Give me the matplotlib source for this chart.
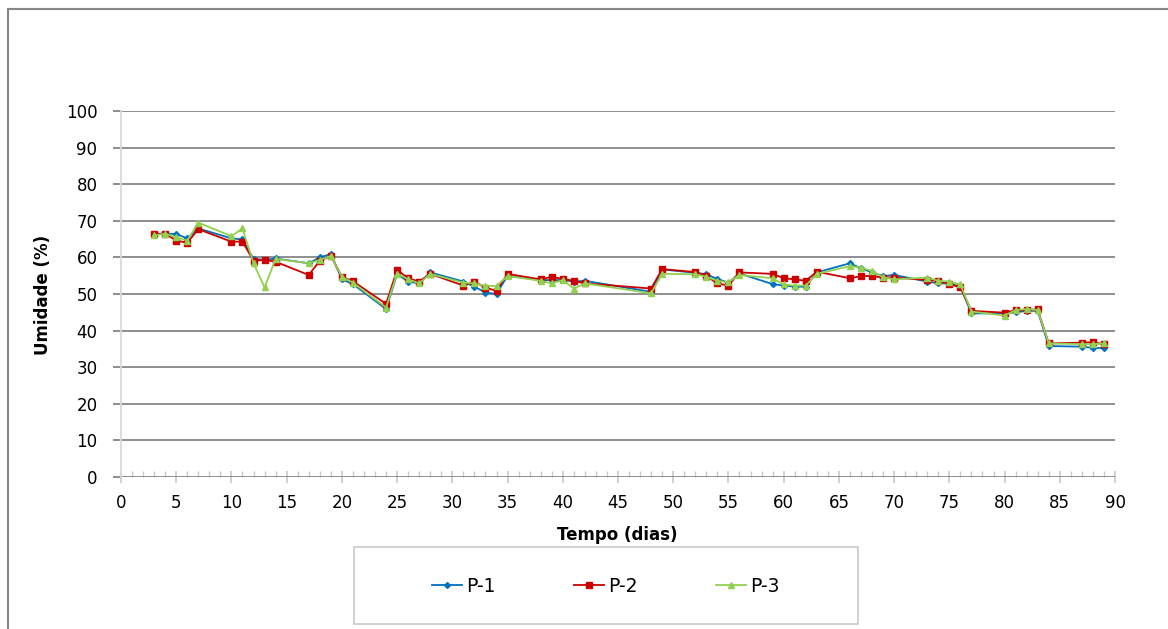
import matplotlib
matplotlib.use("Agg")
from matplotlib import pyplot as plt
from matplotlib.pyplot import MultipleLocator
from matplotlib.lines import Line2D
from matplotlib.patches import Rectangle

# dias de medição
dias = [3, 4, 5, 6, 7, 10, 11, 12, 13, 14, 17, 18, 19, 20, 21,
        24, 25, 26, 27, 28, 31, 32, 33, 34, 35, 38, 39, 40, 41, 42,
        48, 49, 52, 53, 54, 55, 56, 59, 60, 61, 62, 63,
        66, 67, 68, 69, 70, 73, 74, 75, 76, 77,
        80, 81, 82, 83, 84, 87, 88, 89]

p1 = [66.5, 66.5, 66.4, 65.2, 67.9, 65.2, 64.9, 59.6, 59.3, 59.7, 58.4, 60.0, 60.9, 54.0, 52.7,
      45.9, 55.4, 53.4, 52.9, 55.9, 53.4, 52.0, 50.4, 50.0, 55.0, 53.8, 53.8, 53.8, 53.4, 53.6,
      50.6, 56.7, 55.8, 55.4, 54.1, 53.1, 55.6, 52.7, 52.3, 52.0, 52.0, 55.9,
      58.4, 57.0, 55.9, 54.9, 55.2, 53.4, 52.9, 52.9, 52.0, 44.7,
      44.7, 45.0, 45.4, 45.4, 35.8, 35.6, 35.3, 35.2]

p2 = [66.3, 66.5, 64.6, 64.0, 67.7, 64.3, 64.3, 59.1, 59.3, 58.8, 55.2, 59.1, 60.4, 54.7, 53.5,
      47.3, 56.6, 54.3, 53.4, 55.5, 52.3, 53.4, 51.7, 50.9, 55.5, 54.0, 54.7, 54.1, 53.6, 52.9,
      51.5, 56.8, 56.0, 54.9, 52.9, 52.3, 55.9, 55.5, 54.3, 54.0, 53.6, 56.1,
      54.3, 54.9, 54.9, 54.5, 54.5, 53.8, 53.6, 52.7, 51.8, 45.4,
      44.9, 45.6, 45.6, 45.8, 36.5, 36.7, 36.8, 36.3]

p3 = [66.0, 66.5, 65.5, 64.6, 69.5, 65.8, 67.9, 58.4, 51.8, 59.6, 58.4, 59.3, 60.4, 54.7, 53.1,
      46.3, 55.6, 54.0, 52.9, 55.5, 53.1, 52.9, 52.2, 52.2, 54.9, 53.6, 52.9, 53.8, 51.5, 52.9,
      50.2, 55.5, 55.4, 54.7, 53.6, 53.2, 55.2, 54.3, 52.6, 52.3, 52.3, 55.5,
      57.6, 57.2, 56.3, 54.6, 54.0, 54.5, 53.6, 53.4, 52.6, 45.2,
      44.1, 45.6, 45.9, 45.6, 36.5, 36.3, 36.3, 36.5]

series = ['P-1', 'P-2', 'P-3']

W, H = 1168, 629
fig = plt.figure(figsize=(W / 100, H / 100), dpi=100)
ax = fig.add_axes([121 / W, 1 - 477 / H, (1115 - 121) / W, (477 - 111) / H])

ax.plot(dias, p1, color='#0070C0', lw=1.3, marker='D', ms=3, label=series[0])
ax.plot(dias, p2, color='#CC0000', lw=1.3, marker='s', ms=5, label=series[1])
ax.plot(dias, p3, color='#92D050', lw=1.3, marker='^', ms=4.5, label=series[2])

ax.set_xlim(0, 90)
ax.set_ylim(0, 100)
ax.xaxis.set_major_locator(MultipleLocator(5))
ax.xaxis.set_minor_locator(MultipleLocator(1))
ax.yaxis.set_major_locator(MultipleLocator(10))

ax.grid(axis='y', color='#868686', lw=1.3)
ax.set_axisbelow(True)
for s in ['top', 'right', 'bottom']:
    ax.spines[s].set_visible(False)
ax.spines['left'].set_color('#d9d9d9')
ax.spines['left'].set_linewidth(1.3)

ax.tick_params(axis='x', which='major', direction='inout', length=9, width=1.2,
               color='#c8c8c8', labelsize=12, pad=8)
ax.tick_params(axis='x', which='minor', direction='in', length=4, width=1.0,
               color='#c8c8c8')
ax.tick_params(axis='y', which='major', direction='out', length=6, width=1.3,
               color='#868686', labelsize=12, pad=11)

ax.set_xlabel('Tempo (dias)', fontsize=12, fontweight='bold')
ax.set_ylabel('Umidade (%)', fontsize=12, fontweight='bold')
ax.xaxis.set_label_coords((617 - 121) / 994, (477 - 535) / 366)
ax.xaxis.label.set_va('center')
ax.yaxis.set_label_coords((43 - 121) / 994, (477 - 295) / 366)
ax.yaxis.label.set_va('center')

# caixa da legenda
fig.add_artist(Rectangle((354 / W, 1 - 624 / H), 504 / W, 77 / H,
                         transform=fig.transFigure, fill=False,
                         edgecolor='#c8c8c8', lw=1.2))
fig.legend(loc='center', bbox_to_anchor=(606 / W, 1 - 586 / H), ncol=3,
           frameon=False, fontsize=13.5, handlelength=1.6, handletextpad=0.2,
           columnspacing=4.2)

# borda externa
fig.add_artist(Line2D([8 / W, 8 / W], [0, 1 - 9 / H], transform=fig.transFigure,
                      color='#868686', lw=1.5))
fig.add_artist(Line2D([8 / W, 1], [1 - 9 / H, 1 - 9 / H], transform=fig.transFigure,
                      color='#868686', lw=1.5))

plt.savefig('out.png', dpi=100)
